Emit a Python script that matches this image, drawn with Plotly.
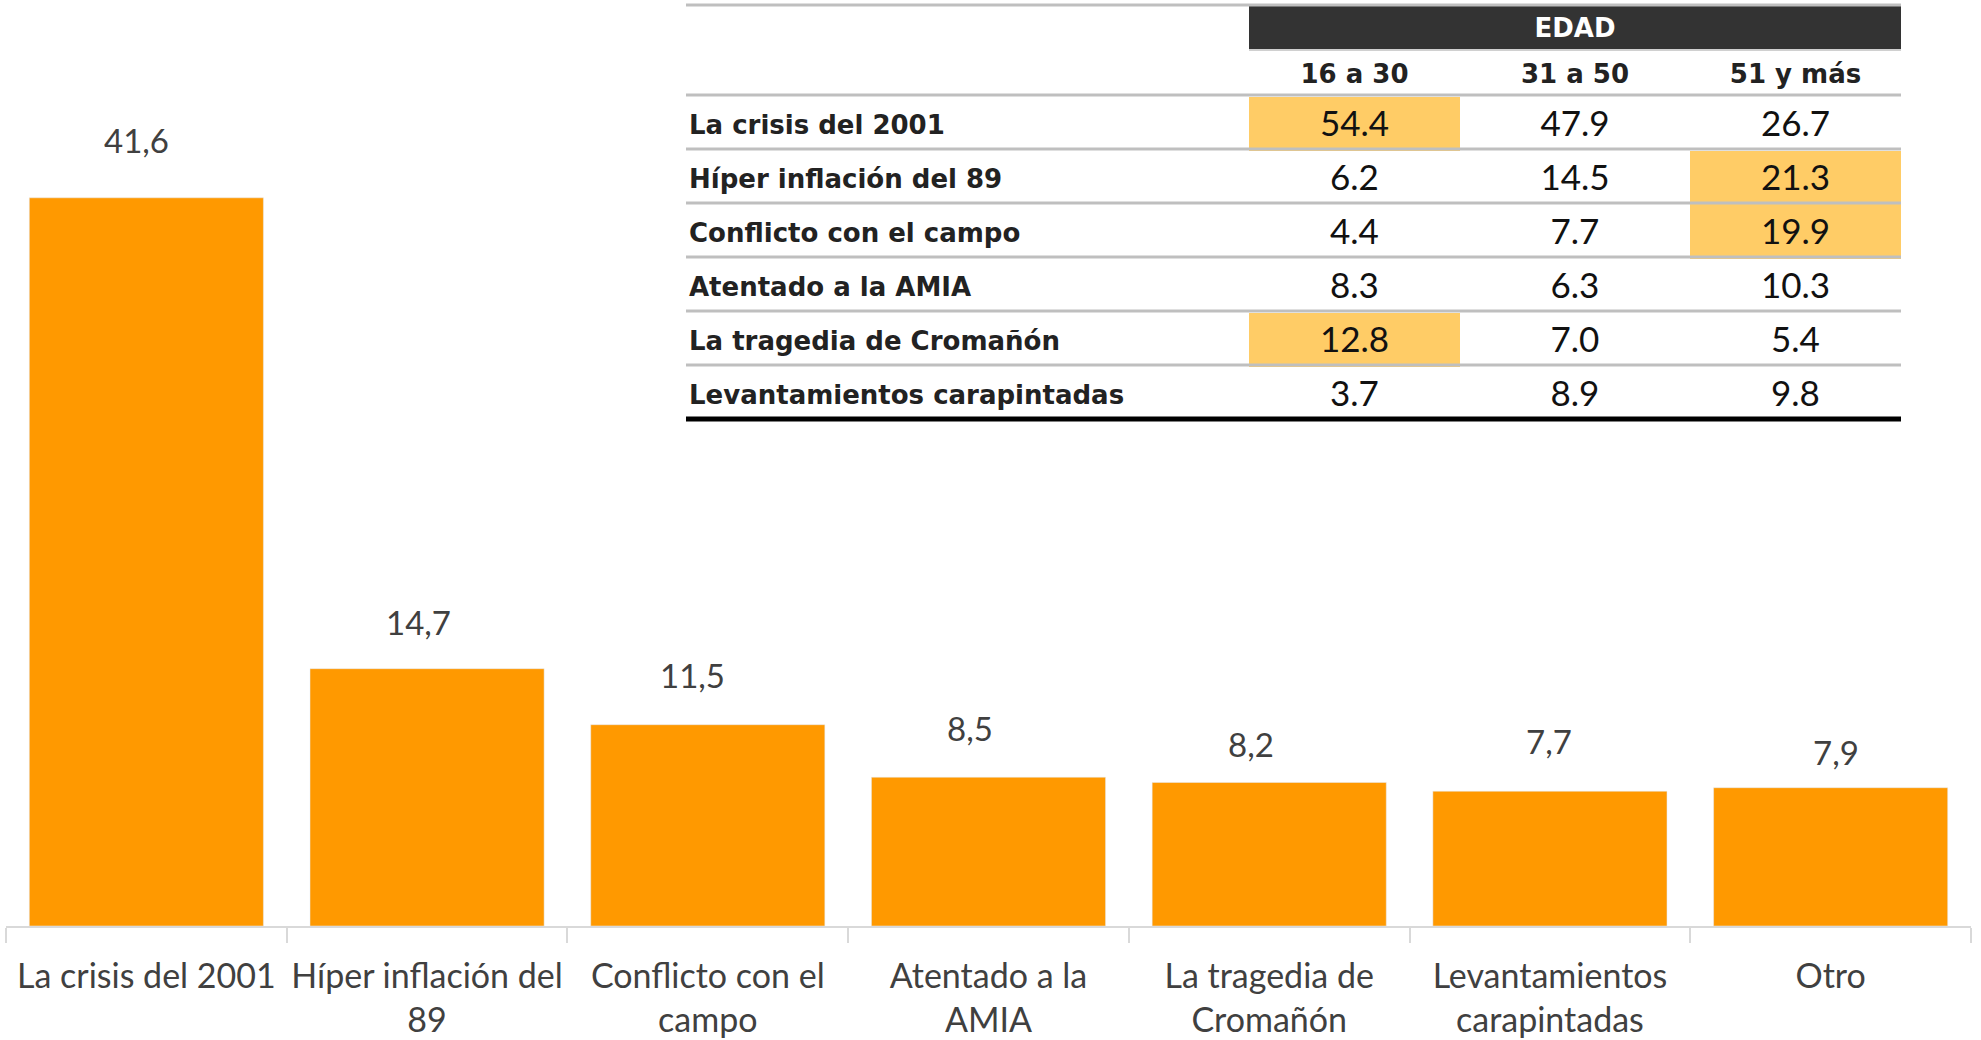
import plotly.graph_objects as go

# ---- bar chart data ----
categories = ["La crisis del 2001", "Híper inflación del<br>89", "Conflicto con el<br>campo",
              "Atentado a la<br>AMIA", "La tragedia de<br>Cromañón", "Levantamientos<br>carapintadas", "Otro"]
values = [41.6, 14.7, 11.5, 8.5, 8.2, 7.7, 7.9]
label_lift = [58, 47, 50, 49, 38, 50, 36]    # px above bar top (style)
label_nudge = [-10, -9, -15, -19, -18, -1, 5]  # px horizontal offset (style)

# ---- table data ----
table_rows = ["La crisis del 2001", "Híper inflación del 89", "Conflicto con el campo",
              "Atentado a la AMIA", "La tragedia de Cromañón", "Levantamientos carapintadas"]
age_groups = ["16 a 30", "31 a 50", "51 y más"]
col_16_30 = [54.4, 6.2, 4.4, 8.3, 12.8, 3.7]
col_31_50 = [47.9, 14.5, 7.7, 6.3, 7.0, 8.9]
col_51_mas = [26.7, 21.3, 19.9, 10.3, 5.4, 9.8]
highlight_16_30 = [True, False, False, False, True, False]
highlight_31_50 = [False] * 6
highlight_51_mas = [False, True, True, False, False, False]

BAR = "#FF9900"
HL = "#FFCC66"
DARK = "#333333"
GRID = "#BFBFBF"
TXT = "#404040"
W, H = 1981, 1040
ML, MR, MT, MB = 6, 10, 0, 114
PW, PH = W - ML - MR, H - MT - MB


def px_x(x):
    return (x - ML) / PW


def px_y(y):
    return (PH - (y - MT)) / PH


fig = go.Figure()
fig.add_trace(go.Bar(x=categories, y=values, marker_color=BAR, hoverinfo="skip"))

for c, v, lift, nudge in zip(categories, values, label_lift, label_nudge):
    fig.add_annotation(x=c, y=v, text=f"{v:.1f}".replace(".", ","), showarrow=False,
                       yanchor="middle", yshift=lift, xshift=nudge,
                       font=dict(family="Lato", size=33, color=TXT))

# ---- table ----
t_left, t_right = 686, 1901
t_top, hdr_h, row_h = 5, 45, 54
t_bottom = t_top + 2 * hdr_h + 6 * row_h
text_drop = 7
bold_font = "Arial Black, DejaVu Sans"
colw = [568, 211, 230, 211]
dom = dict(x=[px_x(t_left - 5), px_x(t_right)], y=[px_y(t_bottom + text_drop), px_y(t_top)])


def fills(flags):
    return [HL if f else "white" for f in flags]


# table A: header text + cell fills
fig.add_trace(go.Table(
    domain=dom,
    columnwidth=colw,
    header=dict(
        values=[["", ""], ["", "<b>" + age_groups[0] + "</b>"],
                ["<b>EDAD</b>", "<b>" + age_groups[1] + "</b>"], ["", "<b>" + age_groups[2] + "</b>"]],
        height=hdr_h,
        fill=dict(color=[["white", "white"], [DARK, "white"], [DARK, "white"], [DARK, "white"]]),
        line=dict(width=0, color="white"),
        align=["left", "center", "center", "center"],
        font=dict(family=bold_font, size=26,
                  color=[["#222", "#222"], ["white", "#222"], ["white", "#222"], ["white", "#222"]]),
    ),
    cells=dict(
        values=[[""] * 6] * 4,
        height=row_h,
        fill=dict(color=[["white"] * 6, fills(highlight_16_30), fills(highlight_31_50), fills(highlight_51_mas)]),
        line=dict(width=0, color="white"),
    ),
))

# table B: cell text (transparent), dropped slightly to centre vertically
fig.add_trace(go.Table(
    domain=dom,
    columnwidth=colw,
    header=dict(values=[""] * 4, height=2 * hdr_h + text_drop,
                fill=dict(color="rgba(0,0,0,0)"), line=dict(width=0, color="rgba(0,0,0,0)")),
    cells=dict(
        values=[["<b>" + r + "</b>" for r in table_rows],
                [f"{v:.1f}" for v in col_16_30],
                [f"{v:.1f}" for v in col_31_50],
                [f"{v:.1f}" for v in col_51_mas]],
        height=row_h,
        fill=dict(color="rgba(0,0,0,0)"),
        line=dict(width=0, color="rgba(0,0,0,0)"),
        align=["left", "center", "center", "center"],
        font=dict(family=[bold_font, "Lato", "Lato", "Lato"], size=[26, 35, 35, 35],
                  color=["#222", "#111", "#111", "#111"]),
    ),
))

shapes = []
shapes.append(dict(type="line", xref="paper", yref="paper", x0=px_x(t_left), x1=px_x(t_right),
                   y0=px_y(t_top), y1=px_y(t_top), line=dict(color=GRID, width=3)))
shapes.append(dict(type="line", xref="paper", yref="paper", x0=px_x(1249), x1=px_x(t_right),
                   y0=px_y(t_top + hdr_h), y1=px_y(t_top + hdr_h), line=dict(color="#D0D0D0", width=2)))
for i in range(6):
    yy = t_top + 2 * hdr_h + i * row_h
    shapes.append(dict(type="line", xref="paper", yref="paper", x0=px_x(t_left), x1=px_x(t_right),
                       y0=px_y(yy), y1=px_y(yy), line=dict(color=GRID, width=3)))
shapes.append(dict(type="line", xref="paper", yref="paper", x0=px_x(t_left), x1=px_x(t_right),
                   y0=px_y(t_bottom), y1=px_y(t_bottom), line=dict(color="black", width=5)))

fig.update_layout(
    width=W, height=H, margin=dict(l=ML, r=MR, t=MT, b=MB, autoexpand=False),
    paper_bgcolor="white", plot_bgcolor="white",
    bargap=0.166, showlegend=False, shapes=shapes,
    xaxis=dict(tickson="boundaries", ticks="outside", ticklen=15, tickwidth=2, tickcolor="#D9D9D9",
               showline=True, linecolor="#D9D9D9", linewidth=2, showgrid=False, tickangle=0,
               automargin=False,
               tickfont=dict(family="Lato", size=34, color=TXT), ticklabelstandoff=19),
    yaxis=dict(visible=False, range=[0, 52.9], fixedrange=True),
)

fig.write_html("out.html", post_script="document.body.style.margin='0';",
               config=dict(displayModeBar=False))
